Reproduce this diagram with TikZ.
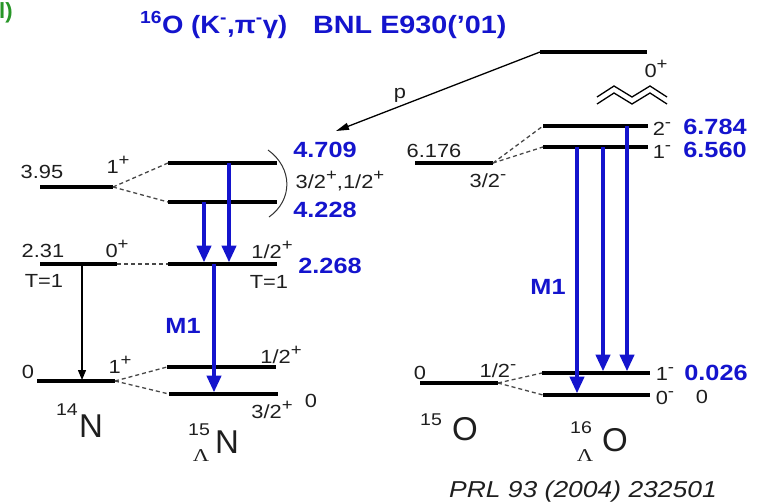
\documentclass[tikz,border=0pt]{standalone}
\usepackage{fontspec}
\setmainfont{Liberation Sans}
\newfontfamily\lamfont{Liberation Serif}
\usetikzlibrary{arrows.meta}
\definecolor{myblue}{RGB}{20,20,205}
\definecolor{mygreen}{RGB}{40,150,40}
\definecolor{txt}{RGB}{30,30,30}
\newcommand{\hs}[1]{\scalebox{1.15}[1]{#1}}
\newcommand{\sps}[1]{\raisebox{0.42em}{\scalebox{0.85}{#1}}}
\begin{document}
\begin{tikzpicture}[x=1pt,y=-1pt,
 lvl/.style={line width=3.2pt, black},
 dsh/.style={dash pattern=on 4pt off 3pt, line width=1.3pt, black!72},
 gam/.style={line width=4.5pt, myblue, -{Triangle[length=17pt,width=14pt]}},
 thin/.style={line width=1.2pt, black, -{Triangle[length=10pt,width=8pt]}},
 lbl/.style={inner sep=0pt, anchor=base, text=txt, font=\fontsize{19}{21}\selectfont},
 val/.style={inner sep=0pt, anchor=base, text=myblue, font=\bfseries\fontsize{22}{24}\selectfont},
 nuc/.style={inner sep=0pt, anchor=base, text=txt, font=\fontsize{33}{35}\selectfont},
 nsup/.style={inner sep=0pt, anchor=base, text=txt, font=\fontsize{17}{18}\selectfont},
 lam/.style={inner sep=0pt, anchor=base, text=txt, font=\lamfont\fontsize{18}{19}\selectfont},
 ttl/.style={inner sep=0pt, anchor=base west, text=myblue, font=\bfseries\fontsize{25}{27}\selectfont},
]
\useasboundingbox (0,0) rectangle (757,501);

% ---------- title ----------
\node[inner sep=0pt, anchor=base west, text=mygreen, font=\bfseries\fontsize{22}{24}\selectfont] (tag) at (-1,18) {l)};
\node[ttl] (t1) at (140,33) {\scalebox{1.1}[1]{\textsuperscript{16}O (K\textsuperscript{-},π\textsuperscript{-}γ)}};
\node[ttl] (t2) at (313,33) {\hs{BNL E930('01)}};

% ---------- level end points ----------
% 14N
\coordinate (n3L) at (40,187);  \coordinate (n3R) at (113,187);
\coordinate (n2L) at (40,264);  \coordinate (n2R) at (117,264);
\coordinate (n0L) at (37,381);  \coordinate (n0R) at (115,381);
% 15LN
\coordinate (h5L) at (168,163); \coordinate (h5R) at (277,163);
\coordinate (h4L) at (168,202); \coordinate (h4R) at (277,202);
\coordinate (h2L) at (168,264); \coordinate (h2R) at (277,264);
\coordinate (h1L) at (167,367); \coordinate (h1R) at (276,367);
\coordinate (h0L) at (169,394); \coordinate (h0R) at (278,394);
% 16O 0+
\coordinate (oTL) at (540,52);  \coordinate (oTR) at (647,52);
% 15O
\coordinate (o6L) at (415,163); \coordinate (o6R) at (493,163);
\coordinate (o0L) at (420,383); \coordinate (o0R) at (498,383);
% 16LO
\coordinate (q2L) at (543,126); \coordinate (q2R) at (648,126);
\coordinate (q1L) at (543,147); \coordinate (q1R) at (648,147);
\coordinate (qaL) at (542,373); \coordinate (qaR) at (650,373);
\coordinate (qbL) at (543,395); \coordinate (qbR) at (650,395);

% ---------- levels ----------
\foreach \a/\b in {n3L/n3R,n2L/n2R,n0L/n0R,h5L/h5R,h4L/h4R,h2L/h2R,h1L/h1R,h0L/h0R,
                   oTL/oTR,o6L/o6R,o0L/o0R,q2L/q2R,q1L/q1R,qaL/qaR,qbL/qbR}
  \draw[lvl] (\a) -- (\b);

% ---------- dashed correspondences ----------
\draw[dsh] (n3R) -- (h5L);
\draw[dsh] (n3R) -- (h4L);
\draw[dsh] (n2R) -- (h2L);
\draw[dsh] (n0R) -- (h1L);
\draw[dsh] (n0R) -- (h0L);
\draw[dsh] (o6R) -- (q2L);
\draw[dsh] (o6R) -- (q1L);
\draw[dsh] (o0R) -- (qaL);
\draw[dsh] (o0R) -- (qbL);

% ---------- transitions ----------
\coordinate (tA) at (82,264);  \coordinate (tB) at (82,380);
\draw[thin] (tA) -- (tB);

\coordinate (g1s) at (204,202); \coordinate (g1e) at (204,262.5);
\coordinate (g2s) at (229,163); \coordinate (g2e) at (229,262.5);
\coordinate (g3s) at (214,264); \coordinate (g3e) at (214,392.5);
\coordinate (g4s) at (577,147); \coordinate (g4e) at (577,393.5);
\coordinate (g5s) at (603,147); \coordinate (g5e) at (603,371.5);
\coordinate (g6s) at (627,126); \coordinate (g6e) at (627,371.5);
\draw[gam] (g1s) -- (g1e);
\draw[gam] (g2s) -- (g2e);
\draw[gam] (g3s) -- (g3e);
\draw[gam] (g4s) -- (g4e);
\draw[gam] (g5s) -- (g5e);
\draw[gam] (g6s) -- (g6e);

% proton emission
\coordinate (pEnd) at (336,131);
\draw[line width=1.3pt, black, -{Triangle[length=13pt,width=7pt]}] (oTL) -- (pEnd);
\node[lbl] (pl) at (400,98) {\hs{p}};

% zigzag (break)
\draw[line width=1.3pt] (597,97) -- (614,86) -- (632,97) -- (650,86) -- (667,97);
\draw[line width=1.3pt] (597,104) -- (614,93) -- (632,104) -- (650,93) -- (667,104);

% bracket
\coordinate (brT) at (268,150); \coordinate (brB) at (269,217);
\draw[line width=1pt, black!80] (brT) .. controls (293,168) and (293,200) .. (brB);

% ---------- labels: 14N ----------
\node[lbl] (l395) at (42,178.5) {\hs{3.95}};
\node[lbl] (s395) at (118,173) {\hs{1\sps{+}}};
\node[lbl] (l231) at (43,257) {\hs{2.31}};
\node[lbl] (s231) at (117,257) {\hs{0\sps{+}}};
\node[lbl] (i231) at (44,287) {\hs{T=1}};
\node[lbl] (l0n) at (28,378) {\hs{0}};
\node[lbl] (s0n) at (120,373) {\hs{1\sps{+}}};
\node[nsup] (n14s) at (67,415) {\hs{14}};
\node[nuc] (n14) at (91,437) {N};

% ---------- labels: 15LN ----------
\node[val] (v4709) at (325,157) {\hs{4.709}};
\node[lbl] (sdbl) at (340,188) {\hs{3/2\sps{+},1/2\sps{+}}};
\node[val] (v4228) at (325,217) {\hs{4.228}};
\node[lbl] (s2268) at (272,258) {\hs{1/2\sps{+}}};
\node[lbl] (i2268) at (269,288) {\hs{T=1}};
\node[val] (v2268) at (330,273) {\hs{2.268}};
\node[val] (m1a) at (183,333) {\hs{M1}};
\node[lbl] (s12) at (281,363) {\hs{1/2\sps{+}}};
\node[lbl] (s32) at (272,418) {\hs{3/2\sps{+}}};
\node[lbl] (e32) at (311,407) {\hs{0}};
\node[nsup] (h15s) at (199,435) {\hs{15}};
\node[lam] (h15l) at (201,461) {\scalebox{1.25}[1]{Λ}};
\node[nuc] (h15) at (227,453) {N};

% ---------- labels: right ----------
\node[lbl] (s0p) at (656,77) {\hs{0\sps{+}}};
\node[lbl] (l6176) at (434,157) {\hs{6.176}};
\node[lbl] (s6176) at (488,187) {\hs{3/2\sps{-}}};
\node[lbl] (s2m) at (662,135) {\hs{2\sps{-}}};
\node[val] (v6784) at (715,134) {\hs{6.784}};
\node[lbl] (s1m) at (662,158) {\hs{1\sps{-}}};
\node[val] (v6560) at (715,157) {\hs{6.560}};
\node[val] (m1b) at (548,294) {\hs{M1}};
\node[lbl] (l0o) at (420,379) {\hs{0}};
\node[lbl] (s0o) at (498,377) {\hs{1/2\sps{-}}};
\node[lbl] (s1mb) at (665,380) {\hs{1\sps{-}}};
\node[val] (v0026) at (716,380) {\hs{0.026}};
\node[lbl] (s0m) at (665,404) {\hs{0\sps{-}}};
\node[lbl] (e0m) at (702,403) {\hs{0}};
\node[nsup] (o15s) at (431,425) {\hs{15}};
\node[nuc] (o15) at (465,440) {O};
\node[nsup] (q16s) at (581,433) {\hs{16}};
\node[lam] (q16l) at (585,461) {\scalebox{1.25}[1]{Λ}};
\node[nuc] (q16) at (615,451) {O};

\node[inner sep=0pt, anchor=base, text=txt, font=\itshape\fontsize{23}{25}\selectfont] (ref) at (583,497) {\hs{PRL 93 (2004) 232501}};
\end{tikzpicture}
\end{document}
